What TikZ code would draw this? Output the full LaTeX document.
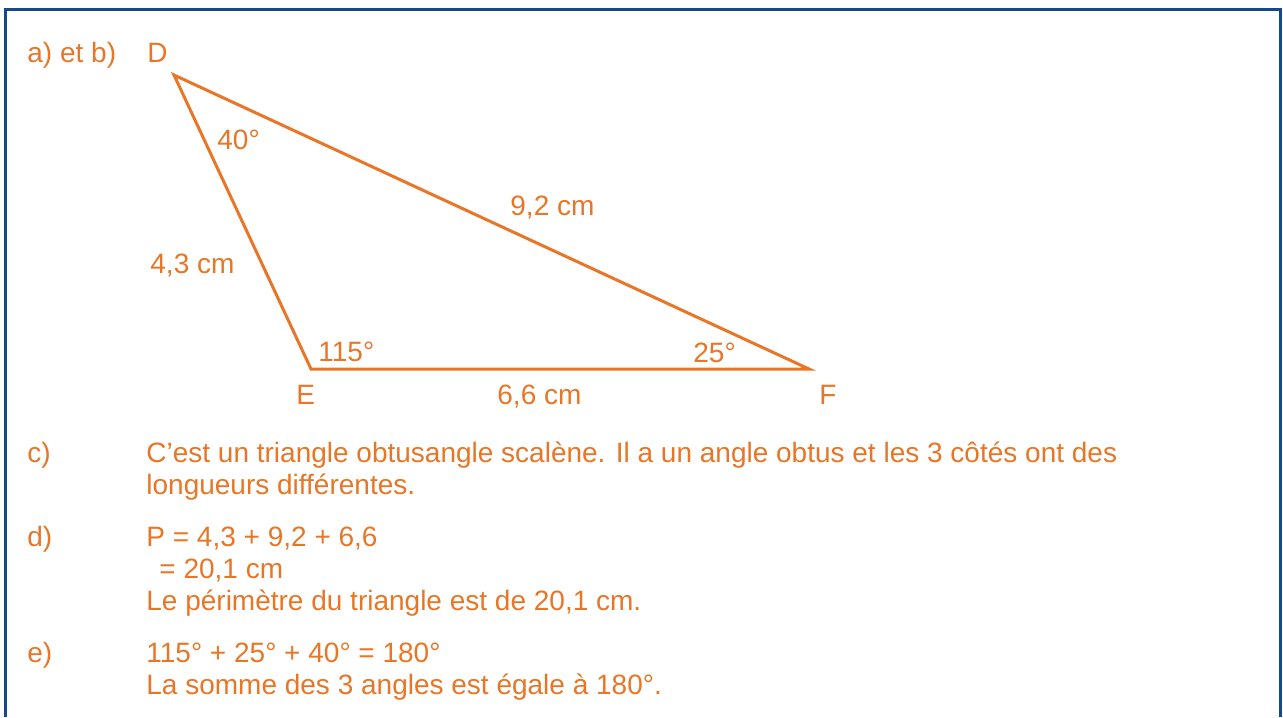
\documentclass[tikz,border=0pt]{standalone}
\usepackage{fontspec}
\setmainfont{Liberation Sans}
\usepackage{xcolor}
\usepackage{tikz}
\usetikzlibrary{positioning}
\definecolor{org}{RGB}{232,118,38}
\definecolor{frm}{RGB}{22,72,140}

\begin{document}
\begin{tikzpicture}[x=0.5pt,y=-0.5pt,font=\fontsize{14pt}{16pt}\selectfont,
  txt/.style={text=org,inner sep=0pt,anchor=base west},
  side/.style={draw=org,line width=1.5pt,line join=miter},
  box/.style={draw=frm,line width=1.5pt}]
  \useasboundingbox (0,0) rectangle (1283,717);
  \draw[box] (5,717) -- (5,10) -- (1280,10) -- (1280,717);
  % triangle
  \coordinate (vD) at (174,75);
  \coordinate (vE) at (311,369);
  \coordinate (vF) at (809,369);
  \draw[side] (vD) -- (vE) -- (vF) -- cycle;
  \node[txt] (ab) at (27,63) {a) et b)};
  \node[txt] (lD) at (147,63) {D};
  \node[txt] (lE) at (296,404) {E};
  \node[txt] (lF) at (819,404) {F};
  \node[txt] (aD) at (217,149) {40°};
  \node[txt] (aE) at (318,361) {115°};
  \node[txt] (aF) at (693,362) {25°};
  \node[txt] (sDF) at (510,215) {9,2 cm};
  \node[txt] (sDE) at (150,273) {4,3 cm};
  \node[txt] (sEF) at (497,404) {6,6 cm};
  % answers
  \node[txt] (qc) at (27,462) {c)};
  \node[txt] (c1) at (146,462) {C’est un triangle obtusangle scalène. Il a un angle obtus et les 3 côtés ont des};
  \node[txt] (c2) at (146,494) {longueurs différentes.};
  \node[txt] (qd) at (27,546) {d)};
  \node[txt] (d1) at (146,546) {P = 4,3 + 9,2 + 6,6};
  \node[txt] (d2) at (159,578) {= 20,1 cm};
  \node[txt] (d3) at (146,610) {Le périmètre du triangle est de 20,1 cm.};
  \node[txt] (qe) at (27,662) {e)};
  \node[txt] (e1) at (146,662) {115° + 25° + 40° = 180°};
  \node[txt] (e2) at (146,694) {La somme des 3 angles est égale à 180°.};
\end{tikzpicture}
\end{document}
